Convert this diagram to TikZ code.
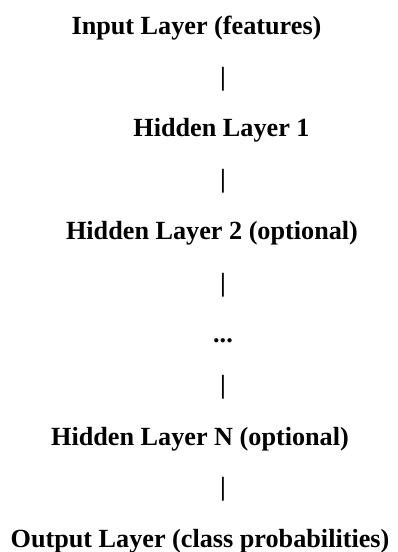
\documentclass[tikz,border=0pt]{standalone}
\usepackage{fontspec}
\setmainfont{Liberation Serif}
\usetikzlibrary{positioning}

\begin{document}
\begin{tikzpicture}[x=1bp, y=-1bp,
    layer/.style={font=\fontsize{26.3}{30}\selectfont\bfseries, anchor=base, inner sep=0pt},
    bar/.style={font=\fontsize{26.3}{30}\selectfont\bfseries, anchor=base, inner sep=0pt}]

  \useasboundingbox (0,0) rectangle (397,552);

  % The layer stack, top to bottom.
  \node[layer] (in)  at (196.5,35)  {Input Layer (features)};
  \node[bar]   (b1)  at (223,86)    {|};
  \node[layer] (h1)  at (221.5,137) {Hidden Layer 1};
  \node[bar]   (b2)  at (223,188)   {|};
  \node[layer] (h2)  at (212,239)   {Hidden Layer 2 (optional)};
  \node[bar]   (b3)  at (223,291)   {|};
  \node[layer] (dots) at (223,342)  {...};
  \node[bar]   (b4)  at (223,393)   {|};
  \node[layer] (hn)  at (200,445)   {Hidden Layer N (optional)};
  \node[bar]   (b5)  at (223,495)   {|};
  \node[layer] (out) at (200,547)   {Output Layer (class probabilities)};
\end{tikzpicture}
\end{document}
